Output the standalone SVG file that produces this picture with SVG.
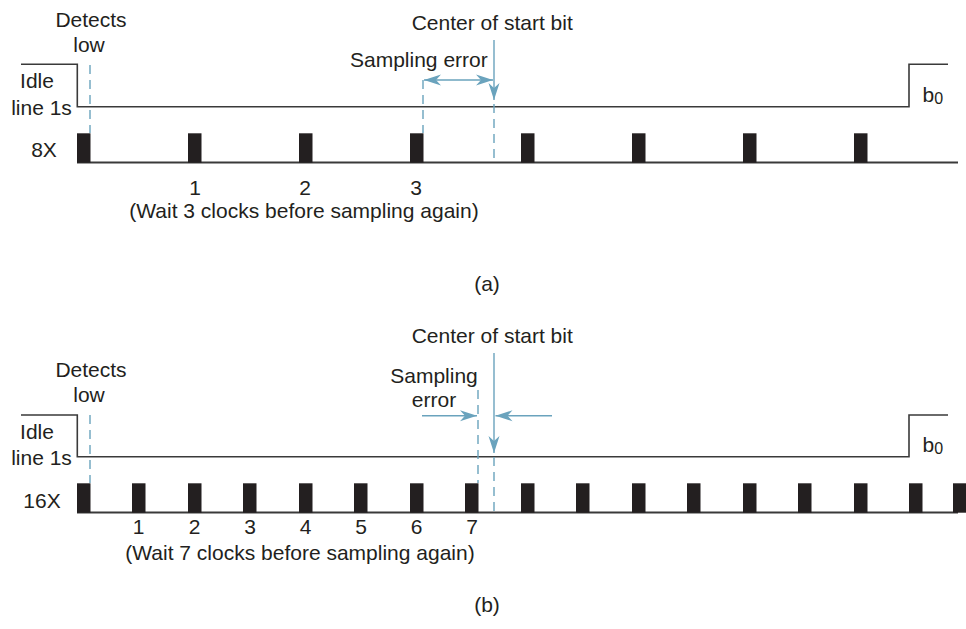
<svg xmlns="http://www.w3.org/2000/svg" width="966" height="629" viewBox="0 0 966 629">
<defs>
<marker id="ah" markerUnits="userSpaceOnUse" markerWidth="18" markerHeight="12" refX="17" refY="6" orient="auto-start-reverse" viewBox="0 0 18 12">
<path d="M0,0.5 L17,6 L0,11.5 L5,6 z" fill="#6aa3bd"/>
</marker>
</defs>
<style>
text{font-family:"Liberation Sans",Arial,Helvetica,sans-serif;font-size:21px;fill:#231f20}
.m{text-anchor:middle}
.sub{font-size:16px}
.sig{fill:none;stroke:#3a3a3a;stroke-width:1.6}
.base{stroke:#3a3a3a;stroke-width:1.8}
.p{fill:#231f20}
.blue{stroke:#6aa3bd;stroke-width:1.4;fill:none}
.dash{stroke-dasharray:9 6}
</style>

<g id="part-a">
<g id="a-labels">
<text class="m" x="91" y="27">Detects</text>
<text class="m" x="89" y="52">low</text>
<text class="m" x="37" y="88">Idle</text>
<text class="m" x="41.5" y="115">line 1s</text>
<text class="m" x="44" y="157">8X</text>
<text x="411.7" y="30">Center of start bit</text>
<text x="350" y="67">Sampling error</text>
<text x="922.5" y="102">b<tspan class="sub" dy="2">0</tspan></text>
<text class="m" x="195" y="195">1</text>
<text class="m" x="305" y="195">2</text>
<text class="m" x="416" y="195">3</text>
<text class="m" x="304" y="218">(Wait 3 clocks before sampling again)</text>
<text class="m" x="487" y="291">(a)</text>
</g>
<g id="a-signal">
<polyline class="sig" points="21,64.3 77.3,64.3 77.3,106.7 909,106.7 909,64.3 948,64.3"/>
</g>
<g id="a-clock">
<line class="base" x1="77" y1="162.5" x2="958" y2="162.5"/>
<rect class="p" x="77" y="133.3" width="13.5" height="29.4"/>
<rect class="p" x="188" y="133.3" width="13.5" height="29.4"/>
<rect class="p" x="299" y="133.3" width="13.5" height="29.4"/>
<rect class="p" x="410" y="133.3" width="13.5" height="29.4"/>
<rect class="p" x="521" y="133.3" width="13.5" height="29.4"/>
<rect class="p" x="632" y="133.3" width="13.5" height="29.4"/>
<rect class="p" x="743" y="133.3" width="13.5" height="29.4"/>
<rect class="p" x="854" y="133.3" width="13.5" height="29.4"/>
</g>
<g id="a-connectors">
<line class="blue dash" x1="90" y1="65" x2="90" y2="133"/>
<line class="blue dash" x1="423" y1="80" x2="423" y2="133"/>
<line class="blue" x1="494" y1="40" x2="494" y2="100" marker-end="url(#ah)"/>
<line class="blue dash" x1="494" y1="104" x2="494" y2="162"/>
<line class="blue" x1="424" y1="80" x2="493" y2="80" marker-start="url(#ah)" marker-end="url(#ah)"/>
</g>
</g>

<g id="part-b">
<g id="b-labels">
<text class="m" x="91" y="377">Detects</text>
<text class="m" x="89" y="402">low</text>
<text class="m" x="37" y="439">Idle</text>
<text class="m" x="41.5" y="465">line 1s</text>
<text class="m" x="42" y="508">16X</text>
<text x="411.7" y="343">Center of start bit</text>
<text class="m" x="434" y="383">Sampling</text>
<text class="m" x="434" y="407">error</text>
<text x="922.5" y="452">b<tspan class="sub" dy="2">0</tspan></text>
<text class="m" x="138.7" y="534">1</text>
<text class="m" x="194.5" y="534">2</text>
<text class="m" x="250" y="534">3</text>
<text class="m" x="305.5" y="534">4</text>
<text class="m" x="361" y="534">5</text>
<text class="m" x="416.5" y="534">6</text>
<text class="m" x="472" y="534">7</text>
<text class="m" x="300" y="560">(Wait 7 clocks before sampling again)</text>
<text class="m" x="487" y="612">(b)</text>
</g>
<g id="b-signal">
<polyline class="sig" points="21,415 77.3,415 77.3,456.7 909,456.7 909,415 948,415"/>
</g>
<g id="b-clock">
<line class="base" x1="77" y1="512.5" x2="958" y2="512.5"/>
<rect class="p" x="77" y="483.3" width="13.5" height="29.4"/>
<rect class="p" x="132" y="483.3" width="13.5" height="29.4"/>
<rect class="p" x="188" y="483.3" width="13.5" height="29.4"/>
<rect class="p" x="243" y="483.3" width="13.5" height="29.4"/>
<rect class="p" x="299" y="483.3" width="13.5" height="29.4"/>
<rect class="p" x="354" y="483.3" width="13.5" height="29.4"/>
<rect class="p" x="410" y="483.3" width="13.5" height="29.4"/>
<rect class="p" x="465" y="483.3" width="13.5" height="29.4"/>
<rect class="p" x="521" y="483.3" width="13.5" height="29.4"/>
<rect class="p" x="576" y="483.3" width="13.5" height="29.4"/>
<rect class="p" x="632" y="483.3" width="13.5" height="29.4"/>
<rect class="p" x="687" y="483.3" width="13.5" height="29.4"/>
<rect class="p" x="743" y="483.3" width="13.5" height="29.4"/>
<rect class="p" x="798" y="483.3" width="13.5" height="29.4"/>
<rect class="p" x="854" y="483.3" width="13.5" height="29.4"/>
<rect class="p" x="909" y="483.3" width="13.5" height="29.4"/>
<rect class="p" x="953" y="483.3" width="13.5" height="29.4"/>
</g>
<g id="b-connectors">
<line class="blue dash" x1="90" y1="415" x2="90" y2="483"/>
<line class="blue dash" x1="478" y1="390" x2="478" y2="483"/>
<line class="blue" x1="494" y1="353" x2="494" y2="453" marker-end="url(#ah)"/>
<line class="blue dash" x1="494" y1="457" x2="494" y2="512"/>
<line class="blue" x1="422" y1="415.7" x2="477" y2="415.7" marker-end="url(#ah)"/>
<line class="blue" x1="552" y1="415.7" x2="495.5" y2="415.7" marker-end="url(#ah)"/>
</g>
</g>
</svg>
